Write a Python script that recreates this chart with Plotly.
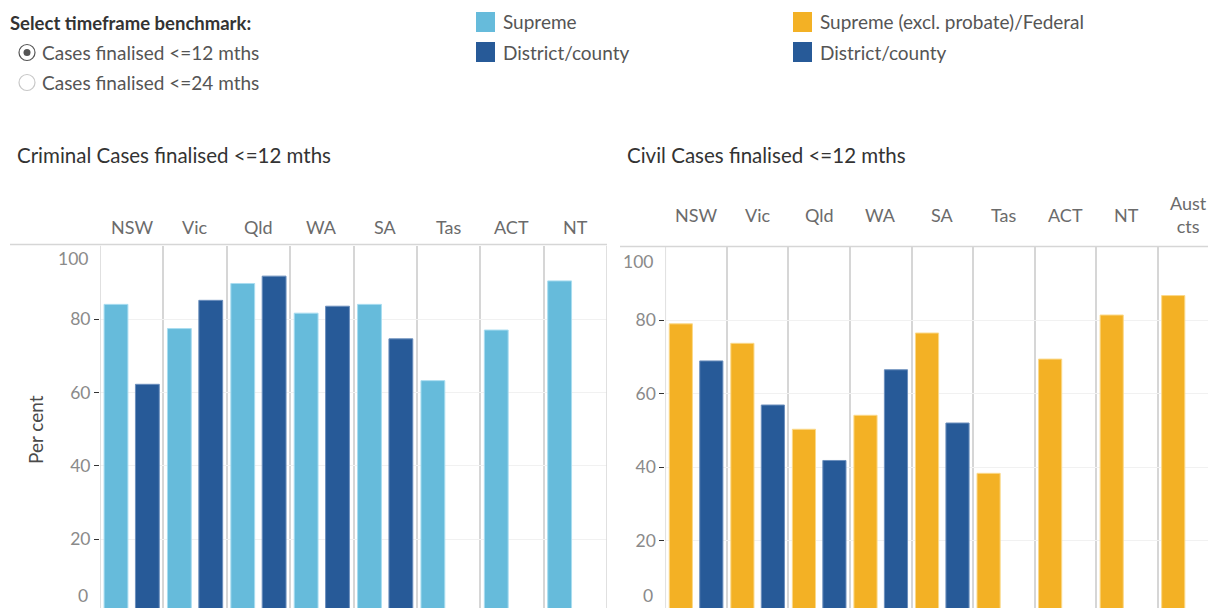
import plotly.graph_objects as go

# ---------------- data ----------------
crim_states = ["NSW", "Vic", "Qld", "WA", "SA", "Tas", "ACT", "NT"]
crim_supreme = [84.0, 77.4, 89.7, 81.6, 84.0, 63.2, 77.0, 90.4]
crim_district = [62.2, 85.1, 91.7, 83.5, 74.6, None, None, None]

civil_states = ["NSW", "Vic", "Qld", "WA", "SA", "Tas", "ACT", "NT", "Aust cts"]
civil_header = ["NSW", "Vic", "Qld", "WA", "SA", "Tas", "ACT", "NT", "Aust<br>cts"]
civil_supreme = [79.0, 73.7, 50.3, 54.1, 76.5, 38.3, 69.4, 81.4, 86.7]
civil_district = [68.9, 56.9, 41.8, 66.5, 52.0, None, None, None, None]

y_ticks = [20, 40, 60, 80]

# ---------------- style ----------------
# page body has an 8px default margin, so the figure is placed at (8, 8)
OFF = 8
FW, FH = 1216 - OFF, 608 - OFF
FONT = "Lato"
C_SUP = "#66BBDB"
C_DIST = "#275A98"
C_FED = "#F3B125"
GRID = "#d6d6d6"

def px(x):
    return (x - OFF) / FW

def py(y):
    return (608 - y) / FH

fig = go.Figure()

fig.add_trace(go.Bar(x=crim_states, y=crim_supreme, name="Supreme",
                     marker=dict(color=C_SUP, line=dict(color="#a9ddf0", width=1)),
                     xaxis="x", yaxis="y"))
fig.add_trace(go.Bar(x=crim_states, y=crim_district, name="District/county",
                     marker=dict(color=C_DIST, line=dict(color="#6c8fbd", width=1)),
                     xaxis="x", yaxis="y"))
fig.add_trace(go.Bar(x=civil_states, y=civil_supreme, name="Supreme (excl. probate)/Federal",
                     marker=dict(color=C_FED, line=dict(color="#fbd98a", width=1)),
                     xaxis="x2", yaxis="y2"))
fig.add_trace(go.Bar(x=civil_states, y=civil_district, name="District/county",
                     marker=dict(color=C_DIST, line=dict(color="#6c8fbd", width=1)),
                     xaxis="x2", yaxis="y2"))

# geometry (reference pixels)
L_x0, L_x1 = 100, 607
R_x0 = 665.3
R_colw = 61.55
L_y0px, L_y100px = 612.4, 245.7
R_y0px, R_y100px = 614.0, 246.7
L_ppu = (L_y0px - L_y100px) / 100
R_ppu = (R_y0px - R_y100px) / 100
L_ybot = (L_y0px - 608) / L_ppu
R_ybot = (R_y0px - 608) / R_ppu
R_xmax = -0.5 + (1216 - R_x0) / R_colw

TICKFONT = dict(family=FONT, size=17.5, color="#8a8a8a")
xcommon = dict(type="category", showticklabels=False, ticks="", showgrid=True,
               gridcolor=GRID, gridwidth=1.5, tickson="boundaries",
               showline=False, zeroline=False, fixedrange=True)
ycommon = dict(tickvals=y_ticks, ticks="outside", ticklen=5, tickwidth=1,
               tickcolor="#333333", tickfont=TICKFONT,
               showgrid=True, gridcolor="#f1f1f1", gridwidth=1, zeroline=False,
               showline=False, fixedrange=True)

fig.update_layout(
    width=FW, height=FH, margin=dict(l=0, r=0, t=0, b=0),
    paper_bgcolor="white", plot_bgcolor="white",
    barmode="group", bargap=0.01, bargroupgap=0.24,
    showlegend=False,
    font=dict(family=FONT, size=18, color="#555555"),
    xaxis=dict(domain=[px(L_x0), px(L_x1)], range=[-0.5, len(crim_states) - 0.5],
               anchor="y", **xcommon),
    yaxis=dict(domain=[0, py(L_y100px)], range=[L_ybot, 100], anchor="x", **ycommon),
    xaxis2=dict(domain=[px(R_x0), 1], range=[-0.5, R_xmax], anchor="y2", **xcommon),
    yaxis2=dict(domain=[0, py(R_y100px)], range=[R_ybot, 100], anchor="x2", **ycommon),
)

shapes = []
annotations = []

# header top lines and pane edges
shapes.append(dict(type="line", xref="paper", yref="paper", x0=px(10), x1=px(L_x1),
                   y0=py(244.5), y1=py(244.5), line=dict(color=GRID, width=1.5)))
shapes.append(dict(type="line", xref="paper", yref="paper", x0=px(620), x1=1,
                   y0=py(246.5), y1=py(246.5), line=dict(color=GRID, width=1.5)))
for xr, xv, ytop in [("x", -0.5, L_y100px), ("x", len(crim_states) - 0.5, L_y100px), ("x2", -0.5, R_y100px)]:
    shapes.append(dict(type="line", xref=xr, yref="paper", x0=xv, x1=xv, y0=0, y1=py(ytop),
                       line=dict(color=GRID, width=1.5)))

# category headers
HDRFONT = dict(family=FONT, size=18, color="#6b6b6b")
for s in crim_states:
    annotations.append(dict(x=s, xref="x", y=py(227), yref="paper", text=s, showarrow=False,
                            font=HDRFONT, xanchor="center", yanchor="middle"))
for s, lab in zip(civil_states, civil_header):
    annotations.append(dict(x=s, xref="x2", y=py(215), yref="paper", text=lab, showarrow=False,
                            font=HDRFONT, xanchor="center", yanchor="middle"))

# 0 / 100 end labels
for yr, ypx0, ppu, xright, y100 in [("y", L_y0px, L_ppu, 90, 258), ("y2", R_y0px, R_ppu, 655, 261.5)]:
    annotations.append(dict(x=px(xright), xref="paper", y=(ypx0 - y100) / ppu, yref=yr,
                            text="100", showarrow=False, xanchor="right", yanchor="middle",
                            font=TICKFONT))
    annotations.append(dict(x=px(xright), xref="paper", y=(ypx0 - 607.5) / ppu, yref=yr,
                            text="0", showarrow=False, xanchor="right", yanchor="bottom",
                            font=TICKFONT))

# y title
annotations.append(dict(x=px(35), y=py(430), xref="paper", yref="paper", text="Per cent",
                        textangle=-90, showarrow=False,
                        font=dict(family=FONT, size=19, color="#4a4a4a"),
                        xanchor="center", yanchor="middle"))

# chart titles
TFONT = dict(family=FONT, size=20.5, color="#333333")
annotations.append(dict(x=px(17), y=py(155), xref="paper", yref="paper", xshift=-2,
                        text="Criminal Cases finalised &lt;=12 mths", showarrow=False,
                        xanchor="left", yanchor="middle", font=TFONT))
annotations.append(dict(x=px(627), y=py(155), xref="paper", yref="paper", xshift=-2,
                        text="Civil Cases finalised &lt;=12 mths", showarrow=False,
                        xanchor="left", yanchor="middle", font=TFONT))

# selector
annotations.append(dict(x=px(10), y=py(23), xref="paper", yref="paper", xshift=-2,
                        text="<b>Select timeframe benchmark:</b>", showarrow=False,
                        xanchor="left", yanchor="middle",
                        font=dict(family=FONT, size=18.5, color="#333333")))
for i, (lab, sel) in enumerate([("Cases finalised &lt;=12 mths", True),
                                ("Cases finalised &lt;=24 mths", False)]):
    yc = 52.5 + 30 * i
    shapes.append(dict(type="circle", xref="paper", yref="paper",
                       x0=px(19), x1=px(35), y0=py(yc + 8), y1=py(yc - 8),
                       line=dict(color="#555555" if sel else "#c8c8c8", width=1.2),
                       fillcolor="white"))
    if sel:
        shapes.append(dict(type="circle", xref="paper", yref="paper",
                           x0=px(23.5), x1=px(30.5), y0=py(yc + 3.5), y1=py(yc - 3.5),
                           line=dict(color="#555555", width=0), fillcolor="#555555"))
    annotations.append(dict(x=px(42), y=py(yc), xref="paper", yref="paper", text=lab,
                            xshift=-2, showarrow=False, xanchor="left", yanchor="middle",
                            font=dict(family=FONT, size=19, color="#555555")))

# legends
for xs, items in [(476, [("Supreme", C_SUP), ("District/county", C_DIST)]),
                  (793, [("Supreme (excl. probate)/Federal", C_FED), ("District/county", C_DIST)])]:
    for j, (lab, col) in enumerate(items):
        yc = 22 + 30 * j
        shapes.append(dict(type="rect", xref="paper", yref="paper",
                           x0=px(xs), x1=px(xs + 19), y0=py(yc + 10), y1=py(yc - 10),
                           line=dict(width=0), fillcolor=col))
        annotations.append(dict(x=px(xs + 27), y=py(yc), xref="paper", yref="paper", text=lab,
                                xshift=-2, showarrow=False, xanchor="left", yanchor="middle",
                                font=dict(family=FONT, size=19, color="#555555")))

fig.update_layout(shapes=shapes, annotations=annotations)
fig.write_html("out.html")
